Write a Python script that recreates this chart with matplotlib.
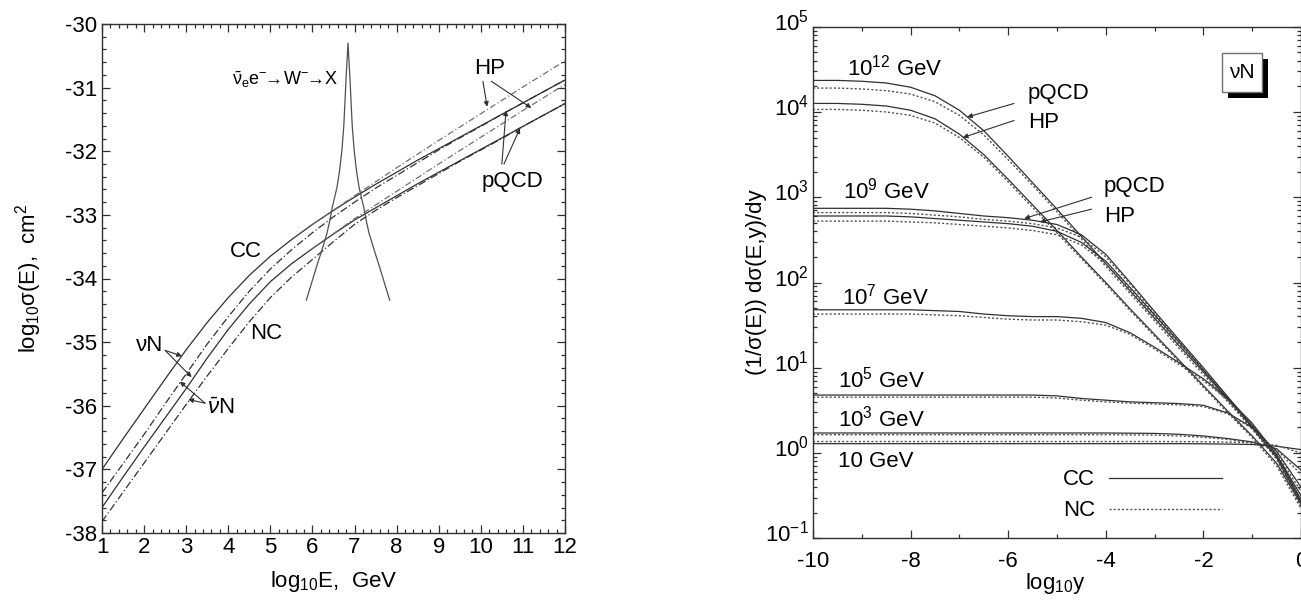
import numpy as np
import matplotlib
matplotlib.use("Agg")
import matplotlib.pyplot as plt
from matplotlib.ticker import MultipleLocator, LogLocator, NullFormatter
from matplotlib.patches import Rectangle
from matplotlib.transforms import ScaledTranslation

plt.rcParams['font.family'] = ['Liberation Sans', 'DejaVu Sans']
plt.rcParams['mathtext.fontset'] = 'custom'
plt.rcParams['mathtext.rm'] = 'Liberation Sans'
plt.rcParams['mathtext.it'] = 'Liberation Sans:italic'
plt.rcParams['mathtext.sf'] = 'Liberation Sans'
plt.rcParams['axes.unicode_minus'] = False

# ---------------- left panel data: log10 sigma(E) ----------------
log_e = [1, 1.5, 2, 2.5, 3, 3.5, 4, 4.5, 5, 5.5, 6, 6.5, 7, 7.5, 8, 8.5, 9, 9.5, 10, 10.5, 11, 11.5, 12]
cc_nu = [-37.0, -36.52, -36.05, -35.58, -35.12, -34.69, -34.3, -33.95, -33.65, -33.39, -33.15, -32.93,
         -32.72, -32.52, -32.33, -32.14, -31.96, -31.78, -31.6, -31.42, -31.24, -31.06, -30.88]
cc_nubar = [-37.37, -36.91, -36.45, -35.97, -35.5, -35.03, -34.6, -34.2, -33.85, -33.55, -33.28, -33.03,
            -32.8, -32.58, -32.38, -32.18, -31.98, -31.79, -31.61, -31.42, -31.24, -31.06, -30.88]
nc_nu = [-37.6, -37.12, -36.65, -36.19, -35.73, -35.25, -34.8, -34.4, -34.05, -33.77, -33.53, -33.3,
         -33.08, -32.89, -32.7, -32.51, -32.33, -32.15, -31.97, -31.79, -31.61, -31.43, -31.25]
nc_nubar = [-37.82, -37.36, -36.9, -36.44, -35.98, -35.53, -35.1, -34.68, -34.3, -33.98, -33.7, -33.42,
            -33.15, -32.93, -32.73, -32.54, -32.35, -32.16, -31.98, -31.8, -31.61, -31.43, -31.25]

log_e_hp = [6, 7, 8, 9, 10, 11, 12]
hp_cc = [-33.15, -32.70, -32.26, -31.83, -31.41, -30.99, -30.58]
hp_nc = [-33.53, -33.06, -32.63, -32.2, -31.78, -31.36, -30.95]

# Glashow resonance
res_x = [5.855, 5.975, 6.095, 6.225, 6.345, 6.415, 6.475, 6.585, 6.645, 6.7, 6.745, 6.775, 6.795, 6.82,
         6.845,
         6.87, 6.895, 6.915, 6.945, 6.99, 7.045, 7.105, 7.215, 7.275, 7.345, 7.465, 7.595, 7.715, 7.835]
res_y = [-34.34, -34.08, -33.82, -33.55, -33.29, -33.08, -32.87, -32.56, -32.3, -31.98, -31.6, -31.19, -30.9, -30.6,
         -30.3,
         -30.6, -30.9, -31.19, -31.6, -31.98, -32.3, -32.56, -32.87, -33.08, -33.29, -33.55, -33.82, -34.08, -34.34]

# ---------------- right panel data: log10 of (1/sigma) dsigma/dy ----------------
log_y = [-10, -9.5, -9, -8.5, -8, -7.5, -7, -6.5, -6, -5.5, -5, -4.5, -4, -3.5, -3, -2.5, -2, -1.5, -1, -0.5, 0]

e12_cc = [4.37, 4.37, 4.36, 4.34, 4.29, 4.19, 4.02, 3.78, 3.48, 3.17, 2.86, 2.54, 2.22, 1.9, 1.58, 1.26, 0.95, 0.63, 0.32, -0.02, -0.55]
e12_nc = [4.28, 4.28, 4.27, 4.25, 4.21, 4.12, 3.96, 3.73, 3.44, 3.14, 2.83, 2.51, 2.19, 1.87, 1.55, 1.23, 0.92, 0.6, 0.29, -0.06, -0.62]
e12_hp_cc = [4.1, 4.1, 4.09, 4.07, 4.02, 3.92, 3.74, 3.5, 3.21, 2.91, 2.61, 2.3, 2.0, 1.69, 1.39, 1.09, 0.79, 0.49, 0.2, -0.12, -0.6]
e12_hp_nc = [4.03, 4.03, 4.02, 4.0, 3.96, 3.87, 3.7, 3.47, 3.18, 2.88, 2.58, 2.28, 1.98, 1.67, 1.37, 1.07, 0.77, 0.47, 0.18, -0.15, -0.65]

e9_cc = [2.87, 2.87, 2.87, 2.87, 2.86, 2.84, 2.81, 2.78, 2.76, 2.73, 2.68, 2.56, 2.33, 2.0, 1.66, 1.33, 1.0, 0.66, 0.32, -0.03, -0.55]
e9_nc = [2.82, 2.82, 2.82, 2.82, 2.81, 2.79, 2.77, 2.74, 2.72, 2.69, 2.64, 2.53, 2.3, 1.98, 1.64, 1.31, 0.98, 0.64, 0.3, -0.05, -0.6]
e9_hp_cc = [2.78, 2.78, 2.78, 2.78, 2.77, 2.75, 2.73, 2.71, 2.69, 2.66, 2.6, 2.47, 2.25, 1.94, 1.62, 1.3, 0.97, 0.64, 0.3, -0.05, -0.58]
e9_hp_nc = [2.72, 2.72, 2.72, 2.72, 2.71, 2.7, 2.68, 2.66, 2.64, 2.61, 2.56, 2.44, 2.22, 1.92, 1.6, 1.28, 0.95, 0.62, 0.28, -0.07, -0.63]

e7_cc = [1.68, 1.68, 1.68, 1.68, 1.68, 1.67, 1.66, 1.63, 1.61, 1.6, 1.6, 1.58, 1.53, 1.41, 1.24, 1.06, 0.87, 0.64, 0.35, -0.02, -0.5]
e7_nc = [1.63, 1.63, 1.63, 1.63, 1.63, 1.62, 1.61, 1.59, 1.57, 1.56, 1.56, 1.54, 1.5, 1.39, 1.22, 1.04, 0.85, 0.62, 0.33, -0.04, -0.55]

e5_cc = [0.68, 0.68, 0.68, 0.68, 0.68, 0.68, 0.68, 0.68, 0.68, 0.68, 0.67, 0.64, 0.62, 0.6, 0.59, 0.58, 0.56, 0.47, 0.3, 0.02, -0.4]
e5_nc = [0.655, 0.655, 0.655, 0.655, 0.655, 0.655, 0.655, 0.655, 0.655, 0.655, 0.645, 0.62, 0.6, 0.585, 0.575, 0.565, 0.545, 0.46, 0.29, 0.0, -0.45]

e3_cc = [0.235, 0.235, 0.235, 0.235, 0.235, 0.235, 0.235, 0.235, 0.235, 0.235, 0.235, 0.235, 0.235, 0.233, 0.23, 0.22, 0.2, 0.17, 0.13, 0.05, -0.2]
e3_nc = [0.215, 0.215, 0.215, 0.215, 0.215, 0.215, 0.215, 0.215, 0.215, 0.215, 0.215, 0.215, 0.215, 0.213, 0.21, 0.2, 0.185, 0.16, 0.12, 0.04, -0.25]

e1_cc = [0.11, 0.11, 0.11, 0.11, 0.11, 0.11, 0.11, 0.11, 0.11, 0.11, 0.11, 0.11, 0.11, 0.11, 0.11, 0.11, 0.108, 0.105, 0.1, 0.08, 0.04]
e1_nc = [0.135, 0.135, 0.135, 0.135, 0.135, 0.135, 0.135, 0.135, 0.135, 0.135, 0.135, 0.135, 0.135, 0.135, 0.135, 0.134, 0.132, 0.128, 0.12, 0.09, 0.0]

W, H = 1301, 606
fig = plt.figure(figsize=(W / 100, H / 100), dpi=100)

line_col = '#303030'
fs = 16

def px_axes(x0, x1, y0, y1):
    return fig.add_axes([x0 / W, 1 - y1 / H, (x1 - x0) / W, (y1 - y0) / H])

# ================= left panel =================
ax1 = px_axes(102, 565, 24, 533)
ax1.plot(log_e, cc_nu, color=line_col, lw=0.9)
ax1.plot(log_e, cc_nubar, color=line_col, lw=0.9, dashes=(6, 2, 1, 2))
ax1.plot(log_e, nc_nu, color=line_col, lw=0.9)
ax1.plot(log_e, nc_nubar, color=line_col, lw=0.9, dashes=(6, 2, 1, 2))
ax1.plot(log_e_hp, hp_cc, color='#707070', lw=0.9, dashes=(5, 2, 1, 2))
ax1.plot(log_e_hp, hp_nc, color='#707070', lw=0.9, dashes=(5, 2, 1, 2))
ax1.plot(res_x, res_y, color='#505050', lw=0.9)

ax1.set_xlim(1, 12)
ax1.set_ylim(-38, -30)
ax1.xaxis.set_major_locator(MultipleLocator(1))
ax1.xaxis.set_minor_locator(MultipleLocator(0.2))
ax1.yaxis.set_major_locator(MultipleLocator(1))
ax1.yaxis.set_minor_locator(MultipleLocator(0.2))
ax1.tick_params(which='both', direction='in', top=True, right=True, labelsize=fs, width=0.9, color=line_col)
ax1.tick_params(which='major', length=6)
ax1.tick_params(which='minor', length=3)
ax1.tick_params(axis='x', pad=3)
for s in ax1.spines.values():
    s.set_linewidth(1.0)
    s.set_color(line_col)

ax1.set_xlabel(r'log$_{10}$E,  GeV', fontsize=fs)
ax1.set_ylabel(r'log$_{10}$σ(E),  cm$^2$', fontsize=fs)
ax1.xaxis.set_label_coords(0.5, -0.07)
ax1.yaxis.set_label_coords(-0.125, 0.5)

arrow_kw = dict(arrowstyle='-|>', lw=0.8, color=line_col, mutation_scale=7, shrinkA=0, shrinkB=0)

ax1.text(5.35, -30.88, r'$\mathrm{\bar{\nu}_e e^{-}\!\!\rightarrow\! W^{-}\!\!\rightarrow\! X}$', fontsize=13,
         ha='center', va='center')
ax1.text(10.2, -30.7, 'HP', fontsize=fs, ha='center', va='center')
ax1.annotate('', xy=(10.15, -31.3), xytext=(10.05, -30.9), arrowprops=arrow_kw)
ax1.annotate('', xy=(11.2, -31.32), xytext=(10.25, -30.9), arrowprops=arrow_kw)
ax1.text(10.75, -32.48, 'pQCD', fontsize=fs, ha='center', va='center')
ax1.annotate('', xy=(10.6, -31.36), xytext=(10.5, -32.2), arrowprops=arrow_kw)
ax1.annotate('', xy=(10.93, -31.64), xytext=(10.55, -32.2), arrowprops=arrow_kw)
ax1.text(4.42, -33.58, 'CC', fontsize=fs, ha='center', va='center')
ax1.text(4.9, -34.86, 'NC', fontsize=fs, ha='center', va='center')
ax1.text(2.12, -35.05, 'νN', fontsize=fs, ha='center', va='center')
ax1.annotate('', xy=(2.9, -35.22), xytext=(2.5, -35.13), arrowprops=arrow_kw)
ax1.annotate('', xy=(3.13, -35.55), xytext=(2.5, -35.13), arrowprops=arrow_kw)
ax1.text(3.82, -36.04, r'$\bar{\nu}$N', fontsize=fs, ha='center', va='center')
ax1.annotate('', xy=(3.05, -35.9), xytext=(3.45, -35.96), arrowprops=arrow_kw)
ax1.annotate('', xy=(2.85, -35.62), xytext=(3.45, -35.96), arrowprops=arrow_kw)

# ================= right panel =================
ax2 = px_axes(813, 1301, 26.7, 538.3)
ly = np.array(log_y)
curves = [
    (e12_cc, '-'), (e12_nc, ':'), (e12_hp_cc, '-'), (e12_hp_nc, ':'),
    (e9_cc, '-'), (e9_nc, ':'), (e9_hp_cc, '-'), (e9_hp_nc, ':'),
    (e7_cc, '-'), (e7_nc, ':'), (e5_cc, '-'), (e5_nc, ':'),
    (e3_cc, '-'), (e3_nc, ':'), (e1_cc, '-'), (e1_nc, ':'),
]
for vals, ls in curves:
    if ls == '-':
        ax2.plot(ly, 10 ** np.array(vals), color=line_col, lw=0.9)
    else:
        ax2.plot(ly, 10 ** np.array(vals), color='#505050', lw=1.0, ls=(0, (1.5, 1.5)))

ax2.set_yscale('log')
ax2.set_xlim(-10, 0)
ax2.set_ylim(0.1, 1e5)
ax2.xaxis.set_major_locator(MultipleLocator(2))
ax2.xaxis.set_minor_locator(MultipleLocator(1))
ax2.yaxis.set_major_locator(LogLocator(base=10, numticks=10))
ax2.yaxis.set_minor_locator(LogLocator(base=10, subs=np.arange(2, 10), numticks=10))
ax2.yaxis.set_minor_formatter(NullFormatter())
ax2.tick_params(which='both', direction='in', top=True, right=True, labelsize=fs, width=0.9, color=line_col)
ax2.tick_params(which='major', length=6)
ax2.tick_params(which='minor', length=3)
ax2.tick_params(axis='x', pad=9)
ax2.tick_params(axis='y', pad=3)
for s in ax2.spines.values():
    s.set_linewidth(1.0)
    s.set_color(line_col)

ax2.set_xlabel(r'log$_{10}$y', fontsize=fs)
ax2.set_ylabel('(1/σ(E)) dσ(E,y)/dy', fontsize=fs)
ax2.xaxis.set_label_coords(0.497, -0.063)
ax2.yaxis.set_label_coords(-0.095, 0.5)

ax2.text(-9.3, 10 ** 4.52, r'10$^{12}$ GeV', fontsize=fs, ha='left', va='center')
ax2.text(-5.6, 10 ** 4.22, 'pQCD', fontsize=fs, ha='left', va='center')
ax2.text(-5.6, 10 ** 3.88, 'HP', fontsize=fs, ha='left', va='center')
ax2.annotate('', xy=(-6.84, 10 ** 3.94), xytext=(-5.88, 10 ** 4.1), arrowprops=arrow_kw)
ax2.annotate('', xy=(-6.93, 10 ** 3.7), xytext=(-5.88, 10 ** 3.9), arrowprops=arrow_kw)

ax2.text(-9.39, 10 ** 3.08, r'10$^{9}$ GeV', fontsize=fs, ha='left', va='center')
ax2.text(-4.04, 10 ** 3.13, 'pQCD', fontsize=fs, ha='left', va='center')
ax2.text(-4.04, 10 ** 2.77, 'HP', fontsize=fs, ha='left', va='center')
ax2.annotate('', xy=(-5.67, 10 ** 2.75), xytext=(-4.29, 10 ** 3.0), arrowprops=arrow_kw)
ax2.annotate('', xy=(-5.35, 10 ** 2.71), xytext=(-4.29, 10 ** 2.86), arrowprops=arrow_kw)

ax2.text(-9.4, 10 ** 1.84, r'10$^{7}$ GeV', fontsize=fs, ha='left', va='center')
ax2.text(-9.48, 10 ** 0.86, r'10$^{5}$ GeV', fontsize=fs, ha='left', va='center')
ax2.text(-9.48, 10 ** 0.41, r'10$^{3}$ GeV', fontsize=fs, ha='left', va='center')
ax2.text(-9.48, 10 ** -0.1, '10 GeV', fontsize=fs, ha='left', va='center')

# legend (label before line)
h_cc, = ax2.plot([], [], color=line_col, lw=0.9)
h_nc, = ax2.plot([], [], color='#505050', lw=1.0, ls=(0, (1.5, 1.5)))
ax2.legend([h_cc, h_nc], ['CC', 'NC'], loc='lower right', bbox_to_anchor=(0.838, 0.033),
           frameon=False, markerfirst=False, fontsize=fs, handlelength=5.1,
           handletextpad=0.6, labelspacing=0.45, borderpad=0, borderaxespad=0)

# boxed "vN" label with shadow
fig.add_artist(Rectangle((1228 / W, 1 - 98 / H), 40 / W, 39 / H, transform=fig.transFigure,
                         facecolor='black', edgecolor='none', zorder=5))
fig.add_artist(Rectangle((1222 / W, 1 - 92 / H), 40 / W, 39 / H, transform=fig.transFigure,
                         facecolor='white', edgecolor='#707070', lw=1.0, zorder=6))
fig.text(1242 / W, 1 - 73 / H, 'νN', fontsize=15, ha='center', va='center', zorder=7)

# y tick labels of the right panel sit a little above their ticks
fig.canvas.draw()
shift = ScaledTranslation(0, 5 / 72, fig.dpi_scale_trans)
for lbl in ax2.get_yticklabels():
    lbl.set_transform(lbl.get_transform() + shift)

fig.savefig('out.png', dpi=100)
